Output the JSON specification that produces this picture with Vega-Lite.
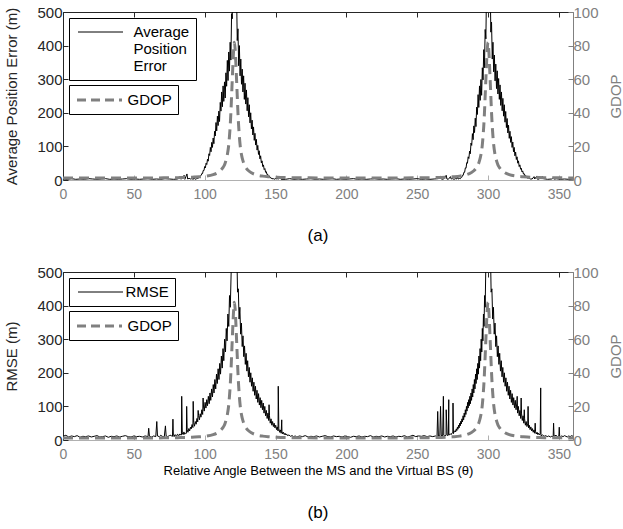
{
"$schema": "https://vega.github.io/schema/vega-lite/v6.json",
"padding": {"left": 4, "top": 5, "right": 0, "bottom": 5},
"config": {
  "font": "Liberation Sans",
  "view": {"stroke": null},
  "axis": {"grid": false, "labelFont": "Liberation Sans", "titleFont": "Liberation Sans", "labelFontSize": 15, "titleFontSize": 15, "titleFontWeight": "normal", "tickSize": -5, "labelPadding": 6},
  "legend": {"orient": "top-left", "offset": 6, "strokeColor": "black", "fillColor": "white", "padding": 6, "symbolType": "M-3,0H3", "symbolSize": 225, "labelFontSize": 15, "labelFont": "Liberation Sans", "labelColor": "black", "cornerRadius": 0,
             "layout": {"direction": "vertical", "margin": 5, "offset": 6, "top-left": {"direction": "vertical", "margin": 5, "offset": 6}}},
  "title": {"fontWeight": "normal", "font": "Liberation Sans", "color": "black"}
},
"datasets": {
"ape": [
{"angle":0,"value":3},{"angle":3,"value":2},{"angle":6,"value":4},{"angle":9,"value":2},{"angle":12,"value":3},{"angle":15,"value":2},{"angle":18,"value":4},{"angle":21,"value":3},{"angle":24,"value":2},{"angle":27,"value":3},{"angle":30,"value":4},{"angle":33,"value":2},{"angle":36,"value":3},{"angle":39,"value":2},{"angle":42,"value":3},{"angle":45,"value":4},{"angle":48,"value":2},{"angle":51,"value":3},{"angle":54,"value":2},{"angle":57,"value":3},{"angle":60,"value":4},{"angle":63,"value":2},{"angle":66,"value":3},{"angle":69,"value":2},{"angle":72,"value":4},{"angle":75,"value":3},{"angle":78,"value":2},{"angle":81,"value":3},{"angle":82.5,"value":10},{"angle":83,"value":3},{"angle":84,"value":4},{"angle":85.5,"value":14},{"angle":86,"value":2},{"angle":87.5,"value":18},{"angle":88,"value":3},{"angle":89,"value":5},{"angle":90,"value":3},{"angle":91,"value":4},{"angle":92,"value":2},{"angle":92.5,"value":12},
{"angle":93,"value":3},{"angle":93.5,"value":2},{"angle":94,"value":4},{"angle":94.5,"value":3},{"angle":95,"value":6},{"angle":95.5,"value":5},{"angle":96,"value":9},{"angle":96.5,"value":9},{"angle":97,"value":13},{"angle":97.5,"value":13.5},{"angle":98,"value":19.5},{"angle":98.5,"value":19},{"angle":99,"value":28.5},{"angle":99.5,"value":28},{"angle":100,"value":40},{"angle":100.5,"value":36},{"angle":101,"value":50},{"angle":101.5,"value":46},{"angle":102,"value":62},{"angle":102.5,"value":56},{"angle":103,"value":78},{"angle":103.5,"value":73},{"angle":104,"value":97},{"angle":104.5,"value":84},{"angle":105,"value":112},{"angle":105.5,"value":97},{"angle":106,"value":125},{"angle":106.5,"value":108},{"angle":107,"value":145},{"angle":107.5,"value":131},{"angle":108,"value":171},{"angle":108.5,"value":146},{"angle":109,"value":190},{"angle":109.5,"value":162},{"angle":110,"value":205},{"angle":110.5,"value":174},{"angle":111,"value":231},{"angle":111.5,"value":205},{"angle":112,"value":262},{"angle":112.5,"value":218},{"angle":113,"value":280},{"angle":113.5,"value":234},{"angle":114,"value":292},{"angle":114.5,"value":244},{"angle":115,"value":319},{"angle":115.5,"value":279},{"angle":116,"value":356},{"angle":116.5,"value":296},{"angle":117,"value":381},{"angle":117.5,"value":324},{"angle":118,"value":410},{"angle":118.5,"value":357},{"angle":119,"value":495},{"angle":119.5,"value":480},{"angle":120,"value":700},{"angle":120.5,"value":1100},{"angle":121,"value":1500},{"angle":121.5,"value":1100},{"angle":122,"value":700},{"angle":122.5,"value":560},{"angle":123,"value":415},{"angle":123.5,"value":450},{"angle":124,"value":340},{"angle":124.5,"value":400},{"angle":125,"value":310},{"angle":125.5,"value":360},{"angle":126,"value":285},{"angle":126.5,"value":330},{"angle":127,"value":262},{"angle":127.5,"value":310},{"angle":128,"value":240},{"angle":128.5,"value":288},{"angle":129,"value":226},{"angle":129.5,"value":268},{"angle":130,"value":206},{"angle":130.5,"value":245},{"angle":131,"value":188},{"angle":131.5,"value":224},{"angle":132,"value":170},{"angle":132.5,"value":200},{"angle":133,"value":152},{"angle":133.5,"value":178},{"angle":134,"value":134},{"angle":134.5,"value":158},{"angle":135,"value":118},{"angle":135.5,"value":139},{"angle":136,"value":104},{"angle":136.5,"value":121},{"angle":137,"value":89},{"angle":137.5,"value":103},{"angle":138,"value":76},{"angle":138.5,"value":87},{"angle":139,"value":63},{"angle":139.5,"value":72},{"angle":140,"value":51},{"angle":140.5,"value":57},{"angle":141,"value":40},{"angle":141.5,"value":45},{"angle":142,"value":31},{"angle":142.5,"value":34},{"angle":143,"value":23},{"angle":143.5,"value":25},{"angle":144,"value":16},{"angle":144.5,"value":17},{"angle":145,"value":10},{"angle":145.5,"value":12},{"angle":146,"value":7},{"angle":146.5,"value":8},{"angle":147,"value":4},{"angle":147.5,"value":6},{"angle":148,"value":3},{"angle":148.5,"value":4},{"angle":149,"value":2},{"angle":150.5,"value":5},{"angle":152,"value":3},{"angle":153.5,"value":9},{"angle":154,"value":2},
{"angle":157,"value":2},{"angle":160,"value":4},{"angle":163,"value":2},{"angle":166,"value":3},{"angle":169,"value":2},{"angle":172,"value":3},{"angle":175,"value":4},{"angle":178,"value":2},{"angle":181,"value":3},{"angle":184,"value":2},{"angle":187,"value":3},{"angle":190,"value":4},{"angle":193,"value":2},{"angle":196,"value":3},{"angle":199,"value":2},{"angle":202,"value":3},{"angle":205,"value":4},{"angle":208,"value":2},{"angle":211,"value":3},{"angle":214,"value":2},{"angle":217,"value":3},{"angle":220,"value":4},{"angle":223,"value":2},{"angle":226,"value":3},{"angle":229,"value":2},{"angle":232,"value":3},{"angle":235,"value":4},{"angle":238,"value":2},{"angle":241,"value":3},{"angle":244,"value":2},{"angle":247,"value":3},{"angle":250,"value":4},{"angle":253,"value":2},{"angle":256,"value":3},{"angle":259,"value":2},{"angle":262,"value":3},{"angle":265,"value":4},{"angle":266.5,"value":12},{"angle":267,"value":3},{"angle":268,"value":2},{"angle":269,"value":4},{"angle":270.5,"value":14},{"angle":271,"value":3},{"angle":272,"value":2},{"angle":273.5,"value":10},{"angle":274,"value":3},{"angle":275,"value":4},{"angle":276,"value":2},{"angle":277,"value":4},{"angle":278,"value":3},{"angle":278.5,"value":11},
{"angle":279,"value":3},{"angle":279.5,"value":3},{"angle":280,"value":5},{"angle":280.5,"value":4},{"angle":281,"value":8},{"angle":281.5,"value":8},{"angle":282,"value":14},{"angle":282.5,"value":14},{"angle":283,"value":23},{"angle":283.5,"value":23},{"angle":284,"value":36},{"angle":284.5,"value":35},{"angle":285,"value":52},{"angle":285.5,"value":50},{"angle":286,"value":69},{"angle":286.5,"value":64},{"angle":287,"value":86},{"angle":287.5,"value":78},{"angle":288,"value":110},{"angle":288.5,"value":103},{"angle":289,"value":138},{"angle":289.5,"value":120},{"angle":290,"value":161},{"angle":290.5,"value":141},{"angle":291,"value":184},{"angle":291.5,"value":159},{"angle":292,"value":217},{"angle":292.5,"value":195},{"angle":293,"value":254},{"angle":293.5,"value":216},{"angle":294,"value":280},{"angle":294.5,"value":237},{"angle":295,"value":299},{"angle":295.5,"value":252},{"angle":296,"value":334},{"angle":296.5,"value":298},{"angle":297,"value":388},{"angle":297.5,"value":334},{"angle":298,"value":448},{"angle":298.5,"value":420},{"angle":299,"value":580},{"angle":299.5,"value":960},{"angle":300,"value":1500},{"angle":300.5,"value":1100},{"angle":301,"value":770},{"angle":301.5,"value":600},{"angle":302,"value":440},{"angle":302.5,"value":470},{"angle":303,"value":360},{"angle":303.5,"value":410},{"angle":304,"value":322},{"angle":304.5,"value":372},{"angle":305,"value":295},{"angle":305.5,"value":345},{"angle":306,"value":272},{"angle":306.5,"value":325},{"angle":307,"value":256},{"angle":307.5,"value":302},{"angle":308,"value":240},{"angle":308.5,"value":283},{"angle":309,"value":222},{"angle":309.5,"value":262},{"angle":310,"value":206},{"angle":310.5,"value":243},{"angle":311,"value":190},{"angle":311.5,"value":224},{"angle":312,"value":172},{"angle":312.5,"value":204},{"angle":313,"value":156},{"angle":313.5,"value":183},{"angle":314,"value":140},{"angle":314.5,"value":163},{"angle":315,"value":124},{"angle":315.5,"value":145},{"angle":316,"value":112},{"angle":316.5,"value":129},{"angle":317,"value":97},{"angle":317.5,"value":113},{"angle":318,"value":84},{"angle":318.5,"value":97},{"angle":319,"value":72},{"angle":319.5,"value":83},{"angle":320,"value":61},{"angle":320.5,"value":69},{"angle":321,"value":50},{"angle":321.5,"value":57},{"angle":322,"value":40},{"angle":322.5,"value":45},{"angle":323,"value":32},{"angle":323.5,"value":35},{"angle":324,"value":24},{"angle":324.5,"value":27},{"angle":325,"value":18},{"angle":325.5,"value":19},{"angle":326,"value":12},{"angle":326.5,"value":14},{"angle":327,"value":8},{"angle":327.5,"value":9},{"angle":328,"value":5},{"angle":328.5,"value":6},{"angle":329,"value":4},{"angle":329.5,"value":5},{"angle":330,"value":3},{"angle":330.5,"value":4},{"angle":331,"value":2},
{"angle":332.5,"value":10},{"angle":333,"value":3},{"angle":334.5,"value":12},{"angle":335,"value":2},{"angle":336,"value":3},{"angle":338.5,"value":10},{"angle":339,"value":4},{"angle":342,"value":2},{"angle":345,"value":3},{"angle":346.5,"value":8},{"angle":347,"value":2},{"angle":348,"value":4},{"angle":351,"value":2},{"angle":354,"value":3},{"angle":357,"value":2},{"angle":360,"value":3}
],
"rmse": [
{"angle":0,"value":11},{"angle":2,"value":14},{"angle":4,"value":9},{"angle":6,"value":12},{"angle":8,"value":10},{"angle":10,"value":13},{"angle":12,"value":8},{"angle":14,"value":11},{"angle":16,"value":10},{"angle":18,"value":12},{"angle":20,"value":9},{"angle":22,"value":11},{"angle":24,"value":13},{"angle":26,"value":9},{"angle":28,"value":10},{"angle":30,"value":12},{"angle":32,"value":8},{"angle":34,"value":11},{"angle":36,"value":10},{"angle":38,"value":12},{"angle":40,"value":9},{"angle":42,"value":11},{"angle":44,"value":13},{"angle":46,"value":10},{"angle":48,"value":9},{"angle":50,"value":12},{"angle":52,"value":10},{"angle":54,"value":11},{"angle":56,"value":9},{"angle":58,"value":12},
{"angle":60,"value":10},{"angle":60.5,"value":35},{"angle":61,"value":11},{"angle":62.5,"value":9},{"angle":64,"value":12},{"angle":65.5,"value":10},{"angle":66.2,"value":55},{"angle":66.7,"value":12},{"angle":68,"value":10},{"angle":69,"value":14},{"angle":70,"value":11},{"angle":71.5,"value":9},{"angle":72.3,"value":42},{"angle":72.8,"value":12},{"angle":74,"value":10},{"angle":75,"value":13},
{"angle":76.15,"value":14},{"angle":76.7,"value":12},{"angle":77.3,"value":11},{"angle":77.6,"value":62},{"angle":77.9,"value":13},{"angle":78.45,"value":10},{"angle":79,"value":16},{"angle":79.6,"value":14},{"angle":80.2,"value":11},{"angle":80.75,"value":17},{"angle":81.3,"value":15},{"angle":81.9,"value":13},{"angle":82.5,"value":18},{"angle":83.05,"value":15},{"angle":83.6,"value":15},{"angle":83.8,"value":130},{"angle":84.2,"value":21},{"angle":84.8,"value":16},{"angle":85.35,"value":24},{"angle":85.9,"value":17},{"angle":86.5,"value":20},{"angle":87.1,"value":20},{"angle":87.3,"value":100},{"angle":87.65,"value":30},{"angle":88.2,"value":23},{"angle":88.8,"value":34},{"angle":89.4,"value":27},{"angle":89.95,"value":38},{"angle":90.5,"value":33},{"angle":91.1,"value":46},{"angle":91.7,"value":37},{"angle":91.9,"value":115},{"angle":92.25,"value":52},{"angle":92.8,"value":41},{"angle":93.4,"value":55},{"angle":94,"value":47},{"angle":94.55,"value":64},{"angle":95.1,"value":54},{"angle":95.4,"value":88},{"angle":95.7,"value":73},{"angle":96.3,"value":60},{"angle":96.85,"value":78},{"angle":97.4,"value":68},{"angle":98,"value":90},{"angle":98.6,"value":76},{"angle":98.9,"value":125},{"angle":99.15,"value":101},{"angle":99.7,"value":86},{"angle":100.3,"value":112},{"angle":100.9,"value":95},{"angle":101.45,"value":120},{"angle":102,"value":102},{"angle":102.6,"value":130},{"angle":103.2,"value":108},{"angle":103.75,"value":140},{"angle":104.3,"value":118},{"angle":104.9,"value":152},{"angle":105.5,"value":128},{"angle":106.05,"value":165},{"angle":106.6,"value":140},{"angle":107.2,"value":180},{"angle":107.8,"value":152},{"angle":108.35,"value":196},{"angle":108.9,"value":168},{"angle":109.5,"value":212},{"angle":110.1,"value":180},{"angle":110.65,"value":228},{"angle":111.2,"value":196},{"angle":111.8,"value":250},{"angle":112.4,"value":214},{"angle":112.95,"value":272},{"angle":113.5,"value":236},{"angle":114.1,"value":300},{"angle":114.7,"value":262},{"angle":115.25,"value":332},{"angle":115.8,"value":295},{"angle":116.4,"value":375},{"angle":117,"value":338},{"angle":117.55,"value":430},{"angle":118.1,"value":395},{"angle":118.7,"value":500},{"angle":119.3,"value":560},{"angle":119.85,"value":800},{"angle":120.4,"value":1100},{"angle":121,"value":1500},
{"angle":121.55,"value":1100},{"angle":122.1,"value":800},{"angle":122.65,"value":580},{"angle":123.2,"value":440},{"angle":123.75,"value":450},{"angle":124.3,"value":360},{"angle":124.85,"value":395},{"angle":125.4,"value":315},{"angle":125.95,"value":348},{"angle":126.5,"value":278},{"angle":127.05,"value":310},{"angle":127.6,"value":248},{"angle":128.15,"value":280},{"angle":128.7,"value":225},{"angle":129.25,"value":258},{"angle":129.8,"value":205},{"angle":130.35,"value":236},{"angle":130.9,"value":188},{"angle":131.45,"value":216},{"angle":132,"value":172},{"angle":132.55,"value":200},{"angle":133.1,"value":160},{"angle":133.65,"value":185},{"angle":134.2,"value":145},{"angle":134.75,"value":172},{"angle":135.3,"value":133},{"angle":135.85,"value":160},{"angle":136.4,"value":122},{"angle":136.95,"value":148},{"angle":137.5,"value":112},{"angle":138.05,"value":138},{"angle":138.6,"value":104},{"angle":139.15,"value":126},{"angle":139.7,"value":96},{"angle":140.25,"value":118},{"angle":140.8,"value":90},{"angle":141.35,"value":110},{"angle":141.9,"value":80},{"angle":142.45,"value":100},{"angle":143,"value":72},{"angle":143.55,"value":88},{"angle":144.1,"value":64},{"angle":144.65,"value":80},{"angle":145.2,"value":58},{"angle":145.45,"value":105},{"angle":145.75,"value":72},{"angle":146.3,"value":50},{"angle":146.85,"value":63},{"angle":147.4,"value":44},{"angle":147.95,"value":55},{"angle":148.5,"value":40},{"angle":149.05,"value":50},{"angle":149.6,"value":36},{"angle":150.15,"value":44},{"angle":150.7,"value":31},{"angle":151.25,"value":39},{"angle":151.8,"value":27},{"angle":151.95,"value":160},{"angle":152.35,"value":34},{"angle":152.9,"value":23},{"angle":153.45,"value":30},{"angle":154,"value":20},{"angle":154.4,"value":60},{"angle":154.55,"value":26},{"angle":155.1,"value":18},{"angle":155.65,"value":23},{"angle":156.2,"value":16},{"angle":156.75,"value":20},{"angle":157.3,"value":15},{"angle":157.85,"value":18},{"angle":158.4,"value":13},{"angle":159.5,"value":15},{"angle":160.6,"value":11},{"angle":161.7,"value":13},{"angle":162.8,"value":10},{"angle":163.9,"value":12},{"angle":165,"value":9},
{"angle":167,"value":12},{"angle":169,"value":10},{"angle":171,"value":13},{"angle":173,"value":9},{"angle":175,"value":11},{"angle":177,"value":10},{"angle":179,"value":12},{"angle":181,"value":9},{"angle":183,"value":11},{"angle":185,"value":13},{"angle":187,"value":10},{"angle":189,"value":9},{"angle":191,"value":12},{"angle":193,"value":10},{"angle":195,"value":11},{"angle":197,"value":9},{"angle":199,"value":12},{"angle":201,"value":10},{"angle":203,"value":8},{"angle":205,"value":11},{"angle":207,"value":10},{"angle":209,"value":12},{"angle":211,"value":9},{"angle":213,"value":11},{"angle":215,"value":10},{"angle":217,"value":13},{"angle":219,"value":9},{"angle":221,"value":11},{"angle":223,"value":10},{"angle":225,"value":12},{"angle":227,"value":9},{"angle":229,"value":11},{"angle":231,"value":10},{"angle":233,"value":12},{"angle":235,"value":9},{"angle":237,"value":11},{"angle":239,"value":10},{"angle":241,"value":13},{"angle":243,"value":9},{"angle":245,"value":11},{"angle":247,"value":14},{"angle":249,"value":10},{"angle":251,"value":12},{"angle":253,"value":11},{"angle":255,"value":13},{"angle":257,"value":10},{"angle":259,"value":12},{"angle":261,"value":10},{"angle":263,"value":12},{"angle":264,"value":9},{"angle":264.5,"value":85},{"angle":265,"value":11},{"angle":266,"value":13},{"angle":266.5,"value":100},{"angle":267,"value":12},{"angle":267.5,"value":14},
{"angle":268,"value":11},{"angle":268.5,"value":130},{"angle":268.8,"value":14},{"angle":269.6,"value":12},{"angle":270.4,"value":15},{"angle":270.5,"value":90},{"angle":271.2,"value":13},{"angle":272,"value":16},{"angle":272.3,"value":120},{"angle":272.4,"value":14},{"angle":272.8,"value":17},{"angle":273.6,"value":18},{"angle":274,"value":16},{"angle":274.4,"value":20},{"angle":275.2,"value":22},{"angle":275.3,"value":110},{"angle":275.6,"value":19},{"angle":276,"value":24},{"angle":276.8,"value":28},{"angle":277.2,"value":24},{"angle":277.6,"value":33},{"angle":278,"value":28},{"angle":278.4,"value":38},{"angle":278.8,"value":32},{"angle":279.2,"value":44},{"angle":279.6,"value":36},{"angle":280,"value":50},{"angle":280.4,"value":42},{"angle":280.8,"value":56},{"angle":281.2,"value":48},{"angle":281.6,"value":63},{"angle":282,"value":54},{"angle":282.4,"value":72},{"angle":282.8,"value":60},{"angle":283.2,"value":80},{"angle":283.6,"value":68},{"angle":284,"value":90},{"angle":284.4,"value":76},{"angle":284.8,"value":100},{"angle":285.2,"value":86},{"angle":285.6,"value":112},{"angle":286,"value":95},{"angle":286.4,"value":120},{"angle":286.8,"value":102},{"angle":287.2,"value":130},{"angle":287.6,"value":108},{"angle":288,"value":140},{"angle":288.4,"value":118},{"angle":288.8,"value":152},{"angle":289.2,"value":128},{"angle":289.6,"value":165},{"angle":290,"value":140},{"angle":290.4,"value":180},{"angle":290.8,"value":152},{"angle":291.2,"value":196},{"angle":291.6,"value":168},{"angle":292,"value":212},{"angle":292.4,"value":180},{"angle":292.8,"value":228},{"angle":293.2,"value":196},{"angle":293.6,"value":250},{"angle":294,"value":214},{"angle":294.4,"value":272},{"angle":294.8,"value":236},{"angle":295.2,"value":300},{"angle":295.6,"value":262},{"angle":296,"value":332},{"angle":296.4,"value":295},{"angle":296.8,"value":375},{"angle":297.2,"value":338},{"angle":297.6,"value":430},{"angle":298,"value":395},{"angle":298.4,"value":500},{"angle":298.8,"value":560},{"angle":299.2,"value":800},{"angle":299.6,"value":1100},{"angle":300,"value":1500},
{"angle":300.55,"value":1100},{"angle":301.1,"value":800},{"angle":301.65,"value":580},{"angle":302.2,"value":440},{"angle":302.75,"value":450},{"angle":303.3,"value":360},{"angle":303.85,"value":395},{"angle":304.4,"value":315},{"angle":304.95,"value":348},{"angle":305.5,"value":278},{"angle":306.05,"value":310},{"angle":306.6,"value":248},{"angle":307.15,"value":280},{"angle":307.7,"value":225},{"angle":308.25,"value":258},{"angle":308.8,"value":205},{"angle":309.35,"value":236},{"angle":309.9,"value":188},{"angle":310.45,"value":216},{"angle":311,"value":172},{"angle":311.55,"value":200},{"angle":312.1,"value":160},{"angle":312.65,"value":185},{"angle":313.2,"value":145},{"angle":313.75,"value":172},{"angle":314.3,"value":133},{"angle":314.85,"value":160},{"angle":315.4,"value":122},{"angle":315.95,"value":148},{"angle":316.5,"value":112},{"angle":317.05,"value":138},{"angle":317.6,"value":104},{"angle":318.15,"value":126},{"angle":318.7,"value":96},{"angle":319.25,"value":118},{"angle":319.8,"value":90},{"angle":320.35,"value":110},{"angle":320.6,"value":130},{"angle":320.9,"value":80},{"angle":321.45,"value":100},{"angle":322,"value":72},{"angle":322.55,"value":88},{"angle":323.1,"value":64},{"angle":323.4,"value":125},{"angle":323.65,"value":80},{"angle":324.2,"value":58},{"angle":324.75,"value":72},{"angle":325.3,"value":50},{"angle":325.6,"value":90},{"angle":325.85,"value":63},{"angle":326.4,"value":44},{"angle":326.95,"value":55},{"angle":327.5,"value":40},{"angle":328.05,"value":50},{"angle":328.3,"value":100},{"angle":328.6,"value":36},{"angle":329.15,"value":44},{"angle":329.7,"value":31},{"angle":330.25,"value":39},{"angle":330.8,"value":27},{"angle":331.35,"value":34},{"angle":331.9,"value":23},{"angle":332.45,"value":30},{"angle":333,"value":20},{"angle":333.3,"value":50},{"angle":333.55,"value":26},{"angle":334.1,"value":18},{"angle":334.65,"value":23},{"angle":335.2,"value":16},{"angle":335.75,"value":20},{"angle":336.3,"value":15},{"angle":336.85,"value":18},{"angle":337.2,"value":155},{"angle":337.4,"value":13},{"angle":338.5,"value":15},{"angle":339.6,"value":11},{"angle":340.7,"value":13},{"angle":341.8,"value":10},{"angle":342.9,"value":12},{"angle":344,"value":9},{"angle":345,"value":11},{"angle":346,"value":10},{"angle":346.3,"value":50},{"angle":346.6,"value":12},{"angle":347,"value":12},{"angle":348,"value":14},{"angle":349,"value":10},{"angle":350,"value":12},{"angle":350.3,"value":38},{"angle":350.6,"value":11},{"angle":351,"value":9},{"angle":352,"value":12},{"angle":353,"value":10},{"angle":354,"value":13},{"angle":355,"value":11},{"angle":356,"value":9},{"angle":357,"value":12},{"angle":358,"value":10},{"angle":359,"value":13},{"angle":360,"value":11}
],
"gdop": [
{"angle":0,"value":1.25},{"angle":30,"value":1.15},{"angle":61,"value":1.2},{"angle":71,"value":1.3},{"angle":81,"value":1.4},{"angle":91,"value":1.6},{"angle":96,"value":1.9},{"angle":101,"value":2.3},{"angle":106,"value":3.2},{"angle":109,"value":4.3},{"angle":111,"value":5.5},{"angle":113,"value":7.5},{"angle":114,"value":9},{"angle":115,"value":11.5},{"angle":116,"value":15},{"angle":117,"value":21},{"angle":117.5,"value":26},{"angle":118,"value":32},{"angle":118.5,"value":40},{"angle":119,"value":50},{"angle":119.5,"value":60},{"angle":120,"value":70},{"angle":120.5,"value":78},{"angle":121,"value":82},{"angle":121.5,"value":78},{"angle":122,"value":70},{"angle":122.5,"value":60},{"angle":123,"value":50},{"angle":123.5,"value":40},{"angle":124,"value":32},{"angle":124.5,"value":26},{"angle":125,"value":21},{"angle":126,"value":15},{"angle":127,"value":11.5},{"angle":128,"value":9},{"angle":129,"value":7.5},{"angle":131,"value":5.5},{"angle":133,"value":4.3},{"angle":136,"value":3.2},{"angle":141,"value":2.3},{"angle":146,"value":1.9},{"angle":151,"value":1.6},{"angle":161,"value":1.4},{"angle":181,"value":1.25},{"angle":210,"value":1.15},{"angle":240,"value":1.25},{"angle":260,"value":1.4},{"angle":270,"value":1.6},{"angle":275,"value":1.9},{"angle":280,"value":2.3},{"angle":285,"value":3.2},{"angle":288,"value":4.3},{"angle":290,"value":5.5},{"angle":292,"value":7.5},{"angle":293,"value":9},{"angle":294,"value":11.5},{"angle":295,"value":15},{"angle":296,"value":21},{"angle":296.5,"value":26},{"angle":297,"value":32},{"angle":297.5,"value":40},{"angle":298,"value":50},{"angle":298.5,"value":60},{"angle":299,"value":70},{"angle":299.5,"value":78},{"angle":300,"value":82},{"angle":300.5,"value":78},{"angle":301,"value":70},{"angle":301.5,"value":60},{"angle":302,"value":50},{"angle":302.5,"value":40},{"angle":303,"value":32},{"angle":303.5,"value":26},{"angle":304,"value":21},{"angle":305,"value":15},{"angle":306,"value":11.5},{"angle":307,"value":9},{"angle":308,"value":7.5},{"angle":310,"value":5.5},{"angle":312,"value":4.3},{"angle":315,"value":3.2},{"angle":320,"value":2.3},{"angle":325,"value":1.9},{"angle":330,"value":1.6},{"angle":340,"value":1.4},{"angle":360,"value":1.25}
]
},
"spacing": 21,
"resolve": {"scale": {"color": "independent"}, "legend": {"color": "independent"}},
"vconcat": [
{
  "width": 510, "height": 168,
  "title": {"text": "(a)", "orient": "bottom", "fontSize": 17, "offset": 27},
  "layer": [
    {"data": {"name": "ape"},
     "mark": {"type": "line", "clip": true, "strokeWidth": 1},
     "encoding": {
       "x": {"field": "angle", "type": "quantitative", "scale": {"domain": [0, 360], "nice": false},
             "axis": {"orient": "bottom", "values": [0,50,100,150,200,250,300,350], "title": null, "labelFlush": false, "labelPadding": 12, "labelFontSize": 14, "labelColor": "#808080", "domainColor": "#b0b0b0", "tickColor": "#b0b0b0"}},
       "y": {"field": "value", "type": "quantitative", "scale": {"domain": [0, 500], "nice": false},
             "axis": {"orient": "left", "values": [0,100,200,300,400,500], "title": "Average Position Error (m)", "titlePadding": 17, "labelColor": "#262626", "domainColor": "#262626", "tickColor": "#262626", "titleColor": "#262626"}},
       "color": {"datum": "Average Position Error", "scale": {"range": ["black"]},
                 "legend": {"symbolStrokeWidth": 1, "symbolOffset": 17.5, "labelOffset": 25, "labelExpr": "['Average','Position','Error']",
                            "encoding": {"labels": {"update": {"dy": {"value": -17}}}}}}
     }},
    {"data": {"name": "gdop"},
     "mark": {"type": "line", "clip": true, "strokeWidth": 3, "strokeDash": [10, 6], "interpolate": "monotone"},
     "encoding": {
       "x": {"field": "angle", "type": "quantitative", "scale": {"domain": [0, 360], "nice": false},
             "axis": {"orient": "top", "values": [0,50,100,150,200,250,300,350], "labels": false, "title": null, "domainColor": "#262626", "tickColor": "#262626"}},
       "y": {"field": "value", "type": "quantitative", "scale": {"domain": [0, 100], "nice": false},
             "axis": {"orient": "right", "values": [0,20,40,60,80,100], "title": "GDOP", "titleAngle": 270, "titleBaseline": "top", "titlePadding": 10, "labelPadding": 5, "labelColor": "#808080", "domainColor": "#808080", "tickColor": "#808080", "titleColor": "#808080"}},
       "color": {"datum": "GDOP", "scale": {"range": ["#808080"]},
                 "legend": {"symbolStrokeWidth": 3, "symbolDash": [9, 5], "symbolOffset": 15.5, "labelOffset": 19}}
     }}
  ],
  "resolve": {"scale": {"y": "independent", "color": "independent"}, "axis": {"x": "independent"}, "legend": {"color": "independent"}}
},
{
  "width": 510, "height": 168,
  "title": {"text": "(b)", "orient": "bottom", "fontSize": 17, "offset": 28},
  "layer": [
    {"data": {"name": "rmse"},
     "mark": {"type": "line", "clip": true, "strokeWidth": 1},
     "encoding": {
       "x": {"field": "angle", "type": "quantitative", "scale": {"domain": [0, 360], "nice": false},
             "axis": {"orient": "bottom", "values": [0,50,100,150,200,250,300,350], "title": "Relative Angle Between the MS and the Virtual BS (θ)", "titleFontSize": 13, "titleColor": "black", "titlePadding": 3, "labelFlush": false, "labelPadding": 12, "labelFontSize": 14, "labelColor": "#808080", "domainColor": "#b0b0b0", "tickColor": "#b0b0b0"}},
       "y": {"field": "value", "type": "quantitative", "scale": {"domain": [0, 500], "nice": false},
             "axis": {"orient": "left", "values": [0,100,200,300,400,500], "title": "RMSE (m)", "titlePadding": 17, "labelColor": "#262626", "domainColor": "#262626", "tickColor": "#262626", "titleColor": "#262626"}},
       "color": {"datum": "RMSE", "scale": {"range": ["black"]},
                 "legend": {"symbolStrokeWidth": 1, "symbolOffset": 17.5, "labelOffset": 17}}
     }},
    {"data": {"name": "gdop"},
     "mark": {"type": "line", "clip": true, "strokeWidth": 3, "strokeDash": [10, 6], "interpolate": "monotone"},
     "encoding": {
       "x": {"field": "angle", "type": "quantitative", "scale": {"domain": [0, 360], "nice": false},
             "axis": {"orient": "top", "values": [0,50,100,150,200,250,300,350], "labels": false, "title": null, "domainColor": "#262626", "tickColor": "#262626"}},
       "y": {"field": "value", "type": "quantitative", "scale": {"domain": [0, 100], "nice": false},
             "axis": {"orient": "right", "values": [0,20,40,60,80,100], "title": "GDOP", "titleAngle": 270, "titleBaseline": "top", "titlePadding": 10, "labelPadding": 5, "labelColor": "#808080", "domainColor": "#808080", "tickColor": "#808080", "titleColor": "#808080"}},
       "color": {"datum": "GDOP", "scale": {"range": ["#808080"]},
                 "legend": {"symbolStrokeWidth": 3, "symbolDash": [9, 5], "symbolOffset": 15.5, "labelOffset": 19}}
     }}
  ],
  "resolve": {"scale": {"y": "independent", "color": "independent"}, "axis": {"x": "independent"}, "legend": {"color": "independent"}}
}
]
}
